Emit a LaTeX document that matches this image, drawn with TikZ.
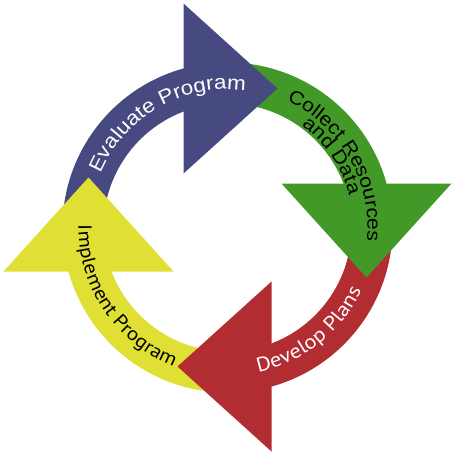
\documentclass[tikz,border=0pt]{standalone}
\usepackage{fontspec}
\usetikzlibrary{decorations.text}
\newfontfamily\arialf[FakeStretch=1.12]{Liberation Sans}
\newfontfamily\myrf[FakeStretch=1.12]{PT Sans}
\definecolor{cblue}{RGB}{70,74,128}
\definecolor{cgreen}{RGB}{67,153,40}
\definecolor{cred}{RGB}{178,45,50}
\definecolor{cyellow}{RGB}{224,223,52}
\tikzset{
  arctext/.style n args={3}{decorate,decoration={text along path,
      text={|#1|#2}, text color=#3, text align={left}}}
}
\begin{document}
\begin{tikzpicture}[x=1pt,y=1pt]
\useasboundingbox (-227.5,-225.5) rectangle (229.5,227.5);
% shafts
\fill[cblue] (180:165pt) arc[start angle=180,end angle=95,radius=165pt] -- (95:124pt) arc[start angle=95,end angle=180,radius=124pt] -- cycle;
\fill[cgreen] (90:165pt) arc[start angle=90,end angle=5,radius=165pt] -- (5:124pt) arc[start angle=5,end angle=90,radius=124pt] -- cycle;
\fill[cred] (0:165pt) arc[start angle=0,end angle=-85,radius=165pt] -- (-85:124pt) arc[start angle=-85,end angle=0,radius=124pt] -- cycle;
\fill[cyellow] (-90:165pt) arc[start angle=-90,end angle=-175,radius=165pt] -- (-175:124pt) arc[start angle=-175,end angle=-90,radius=124pt] -- cycle;
% heads
\fill[cblue] (-44,54) -- (-44,224) -- (50,139) -- cycle;
\fill[cgreen] (54,44) -- (224,44) -- (139,-50) -- cycle;
\fill[cred] (44,-54) -- (44,-224) -- (-50,-139) -- cycle;
\fill[cyellow] (-54,-44) -- (-224,-44) -- (-139,50) -- cycle;
% texts
\path[arctext={\arialf\fontsize{20}{20}\selectfont}{Evaluate Program}{white}]
  (157:138pt) arc[start angle=157,end angle=50,radius=138pt];
\path[arctext={\arialf\fontsize{19}{19}\selectfont}{Collect Resources}{black}]
  (65:140pt) arc[start angle=65,end angle=-30,radius=140pt];
\path[arctext={\arialf\fontsize{19}{19}\selectfont}{and Data}{black}]
  (54:126pt) arc[start angle=54,end angle=-10,radius=126pt];
\path[arctext={\myrf\fontsize{20}{20}\selectfont}{Develop Plans}{white}]
  (-78:148pt) arc[start angle=-78,end angle=-5,radius=148pt];
\path[arctext={\myrf\fontsize{19}{19}\selectfont}{Implement Program}{black}]
  (179:149pt) arc[start angle=179,end angle=275,radius=149pt];
\end{tikzpicture}
\end{document}
